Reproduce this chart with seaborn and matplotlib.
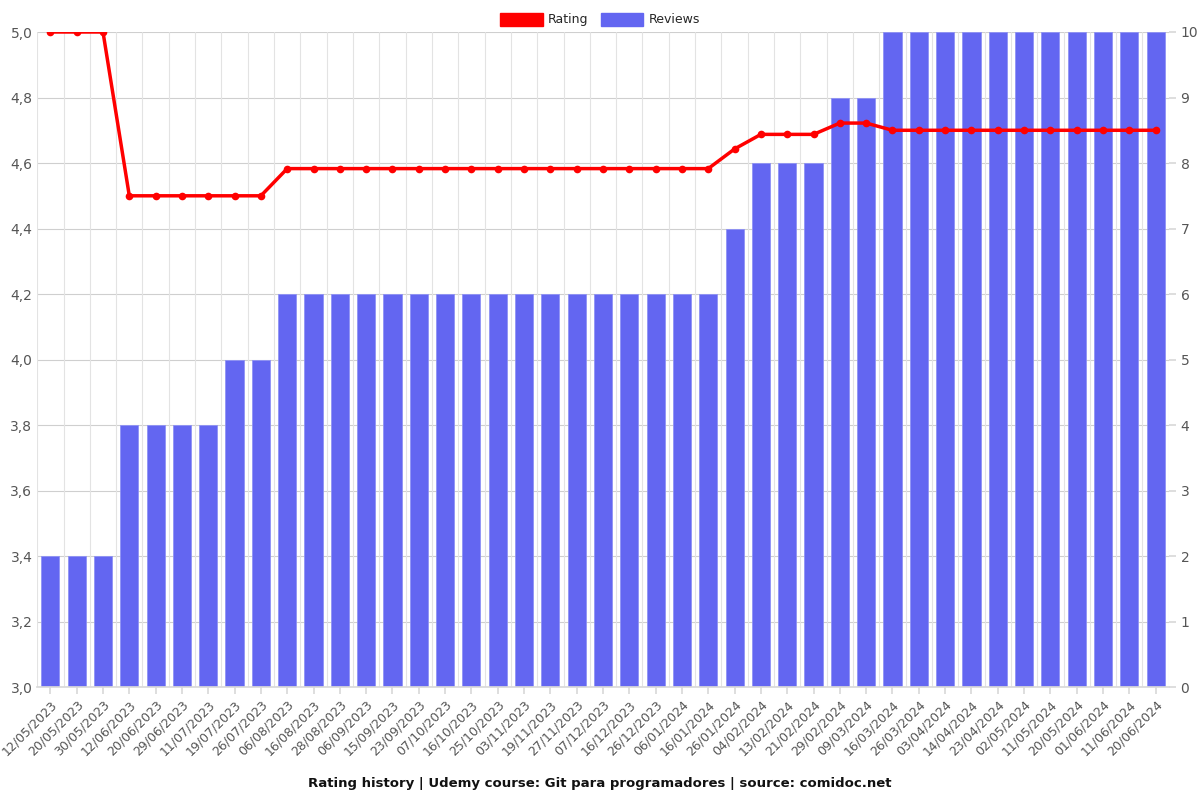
import matplotlib
matplotlib.use("Agg")
import matplotlib.pyplot as plt
import seaborn as sns
import numpy as np
import pandas as pd
from matplotlib.patches import Patch
from matplotlib.ticker import FuncFormatter, MultipleLocator

dates = ["12/05/2023", "20/05/2023", "30/05/2023", "12/06/2023", "20/06/2023", "29/06/2023",
         "11/07/2023", "19/07/2023", "26/07/2023", "06/08/2023", "16/08/2023", "28/08/2023",
         "06/09/2023", "15/09/2023", "23/09/2023", "07/10/2023", "16/10/2023", "25/10/2023",
         "03/11/2023", "19/11/2023", "27/11/2023", "07/12/2023", "16/12/2023", "26/12/2023",
         "06/01/2024", "16/01/2024", "26/01/2024", "04/02/2024", "13/02/2024", "21/02/2024",
         "29/02/2024", "09/03/2024", "16/03/2024", "26/03/2024", "03/04/2024", "14/04/2024",
         "23/04/2024", "02/05/2024", "11/05/2024", "20/05/2024", "01/06/2024", "11/06/2024",
         "20/06/2024"]
reviews = [2, 2, 2, 4, 4, 4, 4, 5, 5, 6, 6, 6, 6, 6, 6, 6, 6, 6, 6, 6, 6, 6, 6, 6, 6, 6,
           7, 8, 8, 8, 9, 9, 10, 10, 10, 10, 10, 10, 10, 10, 10, 10, 10]
rating = [5.0, 5.0, 5.0, 4.5, 4.5, 4.5, 4.5, 4.5, 4.5,
          4.583, 4.583, 4.583, 4.583, 4.583, 4.583, 4.583, 4.583, 4.583, 4.583, 4.583,
          4.583, 4.583, 4.583, 4.583, 4.583, 4.583,
          4.643, 4.6875, 4.6875, 4.6875, 4.722, 4.722,
          4.7, 4.7, 4.7, 4.7, 4.7, 4.7, 4.7, 4.7, 4.7, 4.7, 4.7]

df = pd.DataFrame({"date": dates, "reviews": reviews, "rating": rating})

sns.set_theme(style="white")
plt.rcParams['font.family'] = ['DejaVu Sans']

fig = plt.figure(figsize=(12, 8), dpi=100)
ax_r = fig.add_axes([0.031, 0.141, 0.943, 0.819])  # left axis (rating)
ax_b = ax_r.twinx()  # right axis (reviews)

bar_color = "#6366F1"
grid_color = "#d9d9d9"

n = len(dates)
x = np.arange(n)

ax_b.set_zorder(1)
ax_r.set_zorder(2)
ax_r.patch.set_visible(False)

sns.barplot(data=df, x="date", y="reviews", ax=ax_b, color=bar_color, width=0.69,
            saturation=1, edgecolor="#8f92f5", linewidth=0.6)
ax_b.set_ylim(0, 10)
ax_b.yaxis.set_major_locator(MultipleLocator(1))
ax_b.set_ylabel("")
ax_b.set_xlabel("")

sns.lineplot(x=x, y=df["rating"].values, ax=ax_r, color="#ff0000", linewidth=2.5,
             marker="o", markersize=5.5, markeredgewidth=0)
ax_r.set_ylim(3.0, 5.0)
ax_r.set_xlim(-0.5, n - 0.5)
ax_b.set_xlim(-0.5, n - 0.5)
ax_r.yaxis.set_major_locator(MultipleLocator(0.2))
ax_r.yaxis.set_major_formatter(FuncFormatter(lambda v, p: f"{v:.1f}".replace(".", ",")))

for yv in np.arange(3.0, 5.01, 0.2):
    ax_b.axhline((yv - 3.0) / 2.0 * 10, color="#cfcfcf", linewidth=0.8, zorder=0)
for xv in np.arange(-0.5, n, 1.0):
    ax_b.axvline(xv, color="#e3e3e3", linewidth=0.8, zorder=0)

ax_r.set_xticks(x)
ax_r.set_xticklabels(dates, rotation=45, ha="right", rotation_mode="anchor",
                     fontsize=9, color="#555555")
ax_b.set_xticks(x)
ax_b.tick_params(axis="x", bottom=False, labelbottom=False)
ax_r.tick_params(axis="x", length=5, color=grid_color, bottom=True, pad=3)
ax_r.tick_params(axis="y", labelsize=10, colors="#555555", length=0)
ax_b.tick_params(axis="y", labelsize=10, colors="#555555", length=5, color=grid_color, right=True)
for a in (ax_r, ax_b):
    for s in a.spines.values():
        s.set_visible(False)
ax_r.spines["bottom"].set_visible(True)
ax_r.spines["bottom"].set_color(grid_color)

handles = [Patch(facecolor="#ff0000", edgecolor="#ff0000", label="Rating"),
           Patch(facecolor=bar_color, edgecolor=bar_color, label="Reviews")]
fig.legend(handles=handles, loc="upper center", bbox_to_anchor=(0.5, 0.998), ncol=2,
           frameon=False, fontsize=9, handlelength=3.4, handleheight=1.2,
           columnspacing=1.0, handletextpad=0.4)

fig.text(0.5, 0.021, "Rating history | Udemy course: Git para programadores | source: comidoc.net",
         ha="center", va="center", fontsize=9.5, fontweight="bold", color="#111111")

fig.savefig("out.png", dpi=100)
